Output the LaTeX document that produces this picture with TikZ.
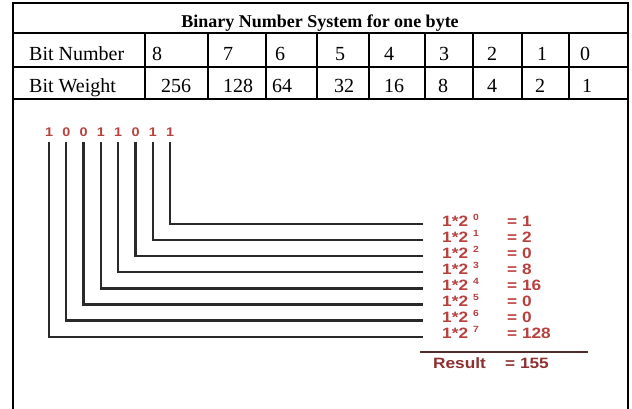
\documentclass[tikz,border=0pt]{standalone}
\usepackage{fontspec}
\setmainfont{Liberation Serif}
\newfontfamily\labfont[FakeStretch=1.15]{Liberation Sans}
\usetikzlibrary{positioning}
\definecolor{bitRed}{HTML}{B8413F}
\definecolor{resRed}{HTML}{8E3030}
\definecolor{wireGray}{HTML}{2A2A2A}

\begin{document}
\begin{tikzpicture}[
  x=1pt, y=-1pt,
  grid/.style={draw=black, line width=2pt},
  cell/.style={anchor=base west, inner sep=0pt, font=\fontsize{20}{20}\selectfont},
  bit/.style={anchor=base, inner sep=1pt, text=bitRed, font=\labfont\bfseries\fontsize{12.5}{12.5}\selectfont},
  term/.style={anchor=mid west, inner sep=0pt, text=bitRed, font=\labfont\bfseries\fontsize{15}{15}\selectfont},
  wire/.style={draw=wireGray, line width=2.3pt, shorten <=4pt, shorten >=19pt}
]
\useasboundingbox (0,0) rectangle (632,409);

% table frame
\draw[grid] (13,409) -- (13,3) -- (628,3) -- (628,409);
\foreach \y in {33,67,99} \draw[grid] (13,\y) -- (628,\y);
\foreach \x in {145,208,266,317,369,425,473,522,569} \draw[grid] (\x,33) -- (\x,99);

\node[cell, anchor=base, font=\bfseries\fontsize{18}{18}\selectfont] (title) at (320,28) {Binary Number System for one byte};
\node[cell] (numHead) at (29,61) {Bit Number};
\node[cell] (wgtHead) at (29,93) {Bit Weight};
\foreach \x/\n/\w/\xw [count=\c] in {152/8/256/161, 223/7/128/223, 275/6/64/272,
    335/5/32/334, 384/4/16/384, 439/3/8/438, 487/2/4/487, 537/1/2/535, 580/0/1/582} {
  \node[cell] (num\c) at (\x,61) {\n};
  \node[cell] (wgt\c) at (\xw,93) {\w};
}

% bits and their weights
\foreach \b/\v [count=\i from 0] in {1/128,0/0,0/0,1/16,1/8,0/0,1/2,1/1} {
  \pgfmathtruncatemacro\e{7-\i}
  \node[bit] (bit\e) at (49+17.3*\i,137) {\b};
  \node[term] (term\e) at (442,224+16.1*\e)
    {\makebox[31pt][l]{1*2}\makebox[34pt][l]{\raisebox{6pt}{\fontsize{9}{9}\selectfont\e}}= \v};
  \draw[wire] (bit\e.south) |- (term\e.mid west);
}

\draw[draw=resRed!40!wireGray, line width=1.2pt] (420,352) -- (588,352);
\node[term, text=resRed] (result) at (433,366) {\makebox[72pt][l]{Result}= 155};

\end{tikzpicture}
\end{document}
